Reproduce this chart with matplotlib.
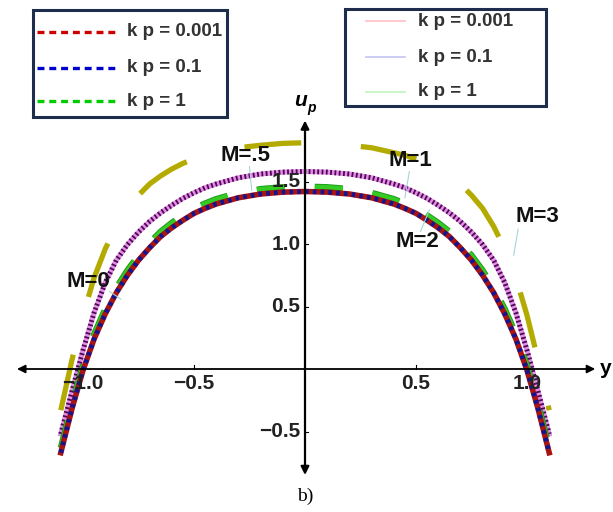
import matplotlib
matplotlib.use("Agg")
import matplotlib.pyplot as plt
from matplotlib.patches import Rectangle

plt.rcParams["font.family"] = ["Liberation Sans", "DejaVu Sans"]
plt.rcParams["lines.scale_dashes"] = False

# y across the channel, shared by all velocity profiles
y = [-1.1, -1.05, -1.0, -0.95, -0.9, -0.85, -0.8, -0.75, -0.7, -0.65, -0.6, -0.55, -0.5, -0.45,
     -0.4, -0.3, -0.2, -0.1, 0.0, 0.1, 0.2, 0.3, 0.4, 0.45, 0.5, 0.55, 0.6, 0.65, 0.7, 0.75,
     0.8, 0.85, 0.9, 0.95, 1.0, 1.05, 1.1]

# u_p profiles, one per Hartmann number M
u_M0 = [-0.67, -0.32, -0.01, 0.24, 0.44, 0.61, 0.75, 0.87, 0.97, 1.06, 1.13, 1.19, 1.245, 1.285,
        1.32, 1.37, 1.40, 1.415, 1.42, 1.415, 1.40, 1.37, 1.32, 1.285, 1.245, 1.19, 1.13, 1.06,
        0.97, 0.87, 0.75, 0.61, 0.44, 0.24, -0.01, -0.32, -0.67]
u_M05 = [-0.63, -0.28, 0.03, 0.28, 0.48, 0.65, 0.79, 0.91, 1.01, 1.10, 1.17, 1.23, 1.285, 1.325,
         1.36, 1.41, 1.44, 1.455, 1.46, 1.455, 1.44, 1.41, 1.36, 1.325, 1.285, 1.23, 1.17, 1.10,
         1.01, 0.91, 0.79, 0.65, 0.48, 0.28, 0.03, -0.28, -0.63]
u_M2 = [-0.52, -0.18, 0.15, 0.45, 0.69, 0.87, 0.995, 1.095, 1.18, 1.25, 1.31, 1.365, 1.41, 1.45,
        1.48, 1.53, 1.56, 1.575, 1.58, 1.575, 1.56, 1.53, 1.48, 1.45, 1.41, 1.365, 1.31, 1.25,
        1.18, 1.095, 0.995, 0.87, 0.69, 0.45, 0.15, -0.18, -0.52]
u_M3 = [-0.33, 0.07, 0.43, 0.73, 0.96, 1.14, 1.285, 1.39, 1.48, 1.545, 1.60, 1.645, 1.68, 1.71,
        1.73, 1.77, 1.79, 1.805, 1.81, 1.805, 1.79, 1.77, 1.73, 1.71, 1.68, 1.645, 1.60, 1.545,
        1.48, 1.39, 1.285, 1.14, 0.96, 0.73, 0.43, 0.07, -0.33]

x_ticks = [-1.0, -0.5, 0.5, 1.0]
y_ticks = [-0.5, 0.5, 1.0, 1.5]
kp_labels = ["k p = 0.001", "k p = 0.1", "k p = 1"]

# M labels: text position and the leader line under it
m_labels = ["M=0", "M=.5", "M=1", "M=2", "M=3"]
m_text_xy = [(-0.975, 0.70), (-0.27, 1.71), (0.475, 1.67), (0.505, 1.02), (1.045, 1.22)]
m_line = [((-0.88, 0.62), (-0.83, 0.56)), ((-0.25, 1.62), (-0.24, 1.43)),
          ((0.47, 1.58), (0.45, 1.37)), ((0.52, 1.10), (0.56, 1.27)),
          ((0.96, 1.12), (0.94, 0.91))]

W, H = 613, 512
fig = plt.figure(figsize=(W / 100, H / 100), dpi=100)
ax = fig.add_axes([0, 0, 1, 1])
ax.set_xlim(-305 / 222, 308 / 222)
ax.set_ylim(-143 / 125, 369 / 125)
ax.axis("off")

# axes with arrows
ax.annotate("", xy=(-1.31, 0), xytext=(1.32, 0),
            arrowprops=dict(arrowstyle="<|-|>", color="black", lw=1.3, mutation_scale=12))
ax.annotate("", xy=(0, 2.01), xytext=(0, -0.87),
            arrowprops=dict(arrowstyle="<|-|>", color="black", lw=1.6, mutation_scale=12))

for t in x_ticks:
    ax.plot([t, t], [0, 0.03], color="black", lw=0.8)
    ax.text(t, -0.115, f"{t:.1f}".replace("-", "\u2212"), ha="center", va="center",
            fontsize=15, fontweight="bold", color="#222222")
for t in y_ticks:
    ax.plot([0, 0.015], [t, t], color="black", lw=0.8)
    ax.text(-0.02, t, f"{t:.1f}".replace("-", "\u2212"), ha="right", va="center",
            fontsize=15, fontweight="bold", color="#222222")

ax.text(-0.022, 2.15, "u", ha="center", va="center", fontsize=15,
        fontweight="bold", style="italic")
ax.text(0.03, 2.09, "p", ha="center", va="center", fontsize=10,
        fontweight="bold", style="italic")
ax.text(1.355, 0.0, "y", ha="center", va="center", fontsize=15, fontweight="bold")

# M = 3 : long olive dashes
ax.plot(y, u_M3, color="#b3ab00", lw=3.8, ls=(0, (41, 43)), dash_capstyle="butt")
# M = 2 : dense purple stripes
ax.plot(y, u_M2, color="#e48ce8", lw=3.6)
ax.plot(y, u_M2, color="#4a0a50", lw=3.6, ls=(0, (1.3, 1.8)), dash_capstyle="butt")
# M = .5 : green dashes
ax.plot(y, u_M05, color="#1f9a1f", lw=4.4, ls=(0, (20.2, 21.6)), dash_capstyle="butt")
ax.plot(y, u_M05, color="#33cc22", lw=3.0, ls=(0, (20.2, 21.6)), dash_capstyle="butt")
# M = 0 : red with blue dashes on top
ax.plot(y, u_M0, color="#a81414", lw=4.0)
ax.plot(y, u_M0, color="#141490", lw=3.4, ls=(0, (2.6, 3.0)), dash_capstyle="butt")

for lab, (tx, ty), (p0, p1) in zip(m_labels, m_text_xy, m_line):
    ax.plot([p0[0], p1[0]], [p0[1], p1[1]], color="#a8d4d4", lw=0.8)
    ax.text(tx, ty, lab, ha="center", va="center", fontsize=16, fontweight="bold",
            color="#111111")

ax.text(0.0, -1.02, "b)", ha="center", va="center", fontsize=14,
        family=["Liberation Serif", "DejaVu Serif"])


def px(xp, yp):
    return xp / W, 1 - yp / H


# left legend: dashed series
x0, y0 = px(33, 117)
x1, y1 = px(227, 10)
fig.patches.append(Rectangle((x0, y0), x1 - x0, y1 - y0, transform=fig.transFigure,
                             fill=True, facecolor="white", edgecolor="#1f2d4d", lw=2.2))
for lab, col, yp in zip(kp_labels, ["#cc0000", "#0000cc", "#00cc00"], [32, 68, 101]):
    a, b = px(37, yp)
    c, _ = px(117, yp)
    fig.lines.append(plt.Line2D([a, c], [b, b], transform=fig.transFigure, color=col,
                                lw=2.4, ls=(0, (5, 3.5))))
    tx, ty = px(127, yp)
    fig.text(tx, ty, lab, ha="left", va="center", fontsize=13.5, fontweight="bold",
             color="#333333")

# right legend: thin series
x0, y0 = px(345, 106)
x1, y1 = px(546, 9)
fig.patches.append(Rectangle((x0, y0), x1 - x0, y1 - y0, transform=fig.transFigure,
                             fill=True, facecolor="white", edgecolor="#1f2d4d", lw=2.2))
for lab, col, yp in zip(kp_labels, ["#ffc4c8", "#c8c8f4", "#c4f4c4"], [21, 57, 92]):
    a, b = px(366, yp)
    c, _ = px(405, yp)
    fig.lines.append(plt.Line2D([a, c], [b, b], transform=fig.transFigure, color=col, lw=1.3))
    tx, ty = px(418, yp)
    fig.text(tx, ty, lab, ha="left", va="center", fontsize=13.5, fontweight="bold",
             color="#333333")

fig.savefig("out.png", dpi=100)
